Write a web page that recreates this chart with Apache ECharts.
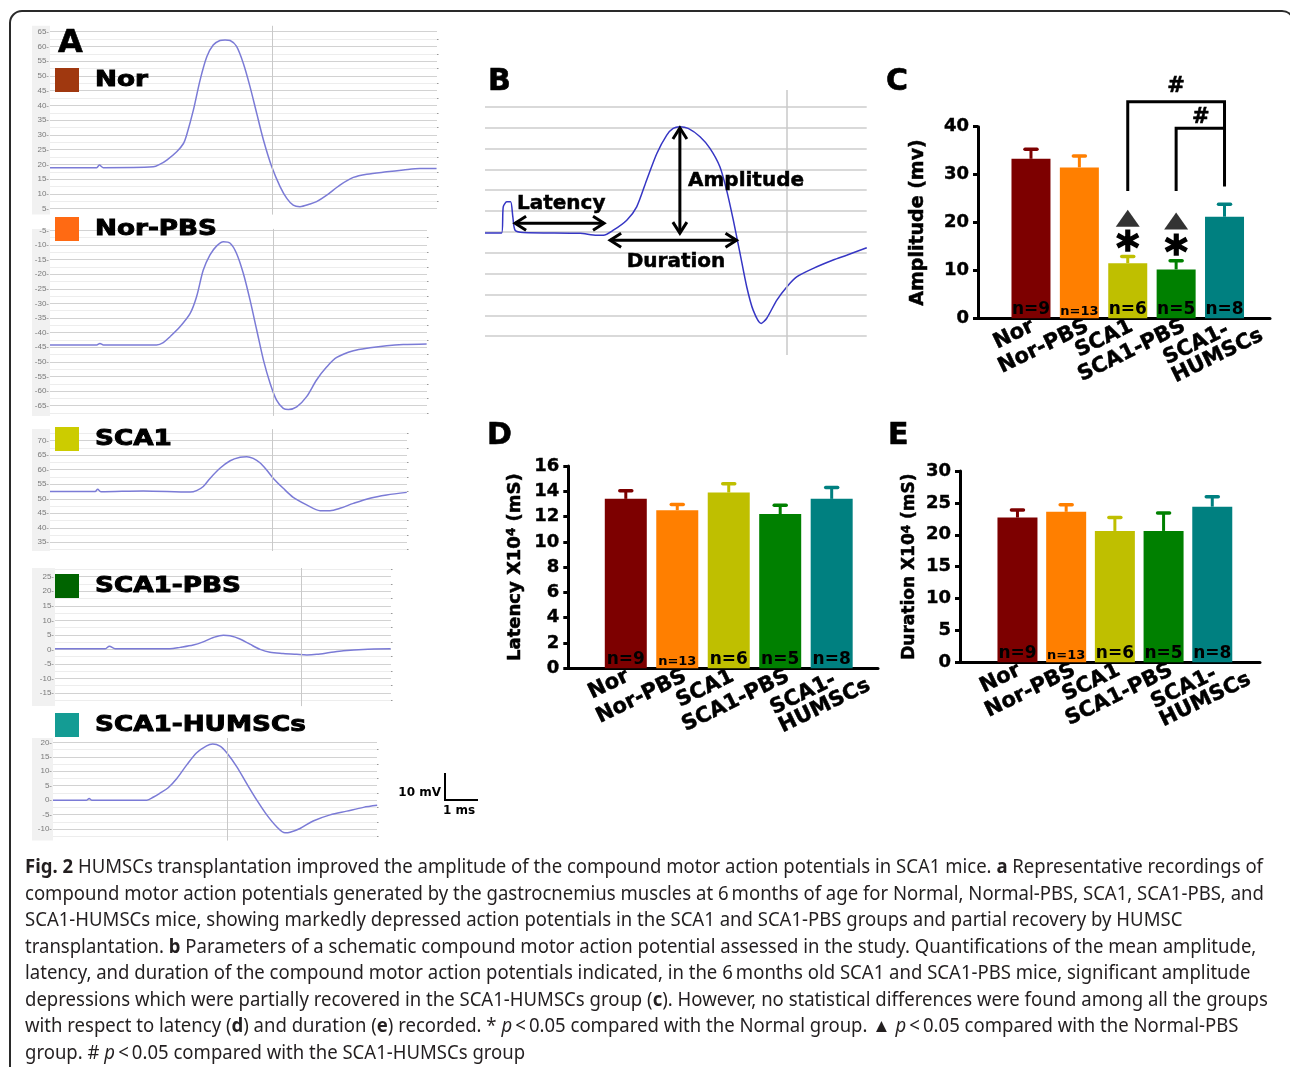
<!DOCTYPE html>
<html>
<head>
<meta charset="utf-8">
<title>Fig. 2</title>
<script src="https://cdn.jsdelivr.net/npm/echarts@6.0.0/dist/echarts.min.js"></script>
<style>
html,body{margin:0;padding:0;background:#ffffff;}
#chart{width:1290px;height:1067px;}
</style>
</head>
<body>
<div id="chart"></div>
<script>
// ===================== DATA =====================
// Panel A: representative CMAP recordings, points are [time (ms), potential (mV)]
const traceNor = [[0,18.9],[1.46,18.9],[1.54,19.8],[1.67,18.9],[3.23,19.2],[3.44,20.1],[3.65,21.5],[3.96,24.3],[4.17,27.1],[4.27,30],[4.48,38.4],[4.69,48.6],[4.9,56.5],[5.1,60.5],[5.31,62],[5.47,62.2],[5.63,62],[5.83,60],[6.04,54.3],[6.25,46.4],[6.46,37.3],[6.67,28.3],[6.93,19.2],[7.19,12.5],[7.4,8.5],[7.6,6.2],[7.81,5.7],[8.13,6.6],[8.33,7.4],[8.65,9.6],[9.06,13],[9.48,15.6],[9.9,16.7],[10.52,17.5],[11.04,18.1],[11.56,18.6],[12.08,18.6]];
const traceNorPBS = [[0,-44.2],[1.46,-44.2],[1.56,-43.7],[1.67,-44.2],[3.33,-44.2],[3.54,-43.4],[3.75,-41.4],[4.06,-38],[4.38,-33.4],[4.58,-27.7],[4.79,-18.6],[5.0,-13.4],[5.21,-10.3],[5.42,-8.9],[5.63,-9.4],[5.83,-12.9],[6.04,-19.7],[6.25,-28.8],[6.46,-39.1],[6.67,-49.4],[6.88,-57.4],[7.08,-63.1],[7.29,-65.9],[7.45,-66.3],[7.71,-65.4],[8.02,-61.9],[8.33,-56.2],[8.65,-51.7],[8.96,-48.5],[9.48,-46.2],[10.0,-45.2],[10.52,-44.5],[11.04,-44.1],[11.77,-43.9]];
const traceSCA1 = [[0,52.5],[1.41,52.5],[1.49,53.3],[1.59,52.4],[2.92,52.7],[4.38,52.3],[4.58,52.8],[4.79,54.2],[5.0,57],[5.31,60.5],[5.63,63.1],[5.94,64.3],[6.15,64.5],[6.35,63.9],[6.56,62.4],[6.77,59.9],[6.98,57],[7.29,53.6],[7.6,50.5],[8.02,47.9],[8.44,45.9],[8.75,45.9],[9.06,46.7],[9.48,48.4],[10.0,50.2],[10.52,51.3],[11.15,52.2]];
const traceSCA1PBS = [[0,0.2],[1.56,0.2],[1.7,1.1],[1.88,0.2],[3.59,0.2],[3.91,0.7],[4.32,1.5],[4.63,2.6],[4.95,4.1],[5.26,4.9],[5.47,4.7],[5.78,3.6],[6.09,1.8],[6.41,0],[6.72,-1],[7.13,-1.4],[7.55,-1.7],[7.87,-1.9],[8.18,-1.7],[8.59,-1.1],[9.01,-0.5],[9.63,0],[10.49,0.2]];
const traceSCA1HUMSCs = [[0,0],[1.05,0],[1.13,0.6],[1.21,0],[2.93,0],[3.13,1],[3.34,2.4],[3.6,4.3],[3.87,7.5],[4.18,12.2],[4.49,16.4],[4.8,18.8],[4.99,19.4],[5.22,18.7],[5.43,16.4],[5.74,11.6],[6.05,5.8],[6.37,0],[6.68,-5.1],[6.99,-9.2],[7.25,-11.3],[7.41,-11.1],[7.72,-9.8],[8.13,-7.2],[8.66,-5.1],[9.18,-3.8],[9.7,-2.5],[10.13,-1.8]];
const traceCursorMs = [6.94, 6.97, 6.93, 7.69, 5.46];
const traceNames = ['Nor', 'Nor-PBS', 'SCA1', 'SCA1-PBS', 'SCA1-HUMSCs'];
const traceYRange = [[3, 67], [-68.5, -4.5], [32, 74], [-19.5, 28], [-14, 21.5]];

// Panel B: schematic CMAP, [time (ms), grid divisions]
const traceSchematic = [[0,4.95],[0.52,4.95],[0.57,6.2],[0.68,6.44],[0.8,6.44],[0.87,5.72],[0.94,5.08],[1.2,4.97],[2.97,4.93],[3.49,4.84],[3.7,4.84],[4.01,5.08],[4.43,5.56],[4.74,6.2],[5.05,7.48],[5.37,8.76],[5.68,9.64],[5.88,9.96],[6.09,10.04],[6.35,9.96],[6.72,9.56],[7.03,9.0],[7.34,8.12],[7.55,7.0],[7.76,5.56],[7.97,3.97],[8.18,2.36],[8.38,1.25],[8.63,0.61],[8.8,0.85],[9.12,1.73],[9.43,2.36],[9.74,2.84],[10.26,3.25],[10.88,3.65],[11.3,3.88],[11.93,4.24]];
const schematicCursorMs = 9.43;
const schematicGridValues = [0,1,2,3,4,5,6,7,8,9,10,11];
// arrows: [x1, y1, x2, y2] (latency, amplitude, duration)
const schematicArrows = [[0.94,5.41,3.72,5.41],[6.09,9.98,6.09,4.94],[3.91,4.6,7.86,4.6]];
const schematicLabels = ['Latency', 'Amplitude', 'Duration'];

// Panels C-E: group means, SEM and n
const groups = ['Nor', 'Nor-PBS', 'SCA1', 'SCA1-PBS', 'SCA1-HUMSCs'];
const groupAxisLabels = ['Nor', 'Nor-PBS', 'SCA1', 'SCA1-PBS', '{p|SCA1-}\n{p|HUMSCs}'];
const groupN = [9, 13, 6, 5, 8];
const amplitudeMean = [33.3, 31.5, 11.5, 10.2, 21.2];
const amplitudeSem = [2.0, 2.4, 1.4, 1.8, 2.6];
const latencyMean = [13.4, 12.5, 13.9, 12.2, 13.4];
const latencySem = [0.65, 0.46, 0.7, 0.7, 0.9];
const durationMean = [22.7, 23.6, 20.6, 20.6, 24.4];
const durationSem = [1.2, 1.1, 2.1, 2.8, 1.55];
const amplitudeTicks = [0, 10, 20, 30, 40];
const latencyTicks = [0, 2, 4, 6, 8, 10, 12, 14, 16];
const durationTicks = [0, 5, 10, 15, 20, 25, 30];
// significance marks in panel C, [group index, amplitude]
const triangleMarks = [[2, 20.9], [3, 20.3]];
const starMarks = [[2, 16.1], [3, 15.1]];
const hashMarks = [[3, 48.4], [3.51, 41.9]];
const sigBrackets = [
  [[2, 26.6], [2, 45.2], [4, 45.2], [4, 27.5]],
  [[3, 26.6], [3, 39.7], [4, 39.7]]
];

// Caption
const captionLines = [
  [['b','Fig. 2'],['n',' HUMSCs transplantation improved the amplitude of the compound motor action potentials in SCA1 mice. '],['b','a'],['n',' Representative recordings of']],
  [['n','compound motor action potentials generated by the gastrocnemius muscles at 6\u2009months of age for Normal, Normal-PBS, SCA1, SCA1-PBS, and']],
  [['n','SCA1-HUMSCs mice, showing markedly depressed action potentials in the SCA1 and SCA1-PBS groups and partial recovery by HUMSC']],
  [['n','transplantation. '],['b','b'],['n',' Parameters of a schematic compound motor action potential assessed in the study. Quantifications of the mean amplitude,']],
  [['n','latency, and duration of the compound motor action potentials indicated, in the 6\u2009months old SCA1 and SCA1-PBS mice, significant amplitude']],
  [['n','depressions which were partially recovered in the SCA1-HUMSCs group ('],['b','c'],['n','). However, no statistical differences were found among all the groups']],
  [['n','with respect to latency ('],['b','d'],['n',') and duration ('],['b','e'],['n',') recorded. * '],['i','p'],['n','\u2009<\u20090.05 compared with the Normal group. \u25B2 '],['i','p'],['n','\u2009<\u20090.05 compared with the Normal-PBS']],
  [['n','group. # '],['i','p'],['n','\u2009<\u20090.05 compared with the SCA1-HUMSCs group']]
];

// ===================== STYLE / LAYOUT =====================
const BOLD = 'DejaVu Sans';
const barColors = ['#7d0000', '#ff7f00', '#bfbf00', '#008000', '#008080'];
const keyColors = ['#a0380f', '#ff6a13', '#cccc00', '#006400', '#149c94'];
const PX_PER_MS = 32;
const traceBoxes = [
  {left: 50, right: 437, top: 25.8, bottom: 214.6},
  {left: 50, right: 427, top: 228.9, bottom: 415.9},
  {left: 50, right: 407, top: 429.1, bottom: 551.0},
  {left: 55, right: 391, top: 568.0, bottom: 706.1},
  {left: 53, right: 377, top: 738.0, bottom: 840.6}
];
const traceData = [traceNor, traceNorPBS, traceSCA1, traceSCA1PBS, traceSCA1HUMSCs];
const keyTops = [68, 217, 427, 574, 713];
// horizontal nudges (px) of the slanted category labels relative to the bar centres
const labelNudgePx = [2, 8, 4, 8, 33];

const grid = [], xAxis = [], yAxis = [], series = [], graphic = [];

// ---- Panel A ----
traceData.forEach((data, k) => {
  const b = traceBoxes[k];
  const [ymin, ymax] = traceYRange[k];
  const gi = grid.length;
  grid.push({left: b.left, top: b.top, width: b.right - b.left, height: b.bottom - b.top, outerBoundsMode: 'none'});
  const xi = xAxis.length;
  xAxis.push({gridIndex: gi, type: 'value', min: 0, max: (b.right - b.left) / PX_PER_MS, show: false});
  const majors = [], minors = [];
  for (let v = Math.ceil(ymin / 5) * 5; v <= ymax; v += 5) majors.push(v);
  for (let v = Math.floor(ymin / 5) * 5 + 2.5; v <= ymax; v += 5) if (v >= ymin) minors.push(v);
  const yi = yAxis.length;
  yAxis.push({
    gridIndex: gi, type: 'value', min: ymin, max: ymax,
    axisLine: {show: false, onZero: false},
    axisTick: {show: false, customValues: majors},
    axisLabel: {customValues: majors, formatter: v => v + '-', fontSize: 8, color: '#7a7a7a', fontFamily: 'Liberation Sans', margin: 1, showMinLabel: true, showMaxLabel: true},
    splitLine: {show: true, lineStyle: {color: '#d2d2d2', width: 1}}
  });
  yAxis.push({
    gridIndex: gi, type: 'value', min: ymin, max: ymax,
    axisLine: {show: false, onZero: false},
    axisTick: {show: true, customValues: minors, length: 1.5, lineStyle: {color: '#999'}},
    axisLabel: {show: false},
    splitLine: {show: true, lineStyle: {color: '#ededed', width: 1}}
  });
  series.push({
    type: 'line', name: traceNames[k], xAxisIndex: xi, yAxisIndex: yi, data: data,
    symbol: 'none', smooth: 0.3, lineStyle: {color: '#7b7bd6', width: 1.5}, z: 3,
    markLine: {silent: true, symbol: 'none', label: {show: false}, lineStyle: {color: '#c9c9c9', width: 1, type: 'solid'}, data: [{xAxis: traceCursorMs[k]}]}
  });
  graphic.push({type: 'rect', z: -1, shape: {x: 32, y: b.top, width: b.left - 32, height: b.bottom - b.top}, style: {fill: '#f1f1f1'}});
  graphic.push({type: 'rect', z: 10, shape: {x: 55, y: keyTops[k], width: 24, height: 24}, style: {fill: keyColors[k]}});
  graphic.push({type: 'text', z: 10, x: 95, y: keyTops[k] + 12.5, scaleX: 1.25,
    style: {text: traceNames[k], fontFamily: BOLD, fontWeight: 'bold', fontSize: 21, fill: '#000', stroke: '#000', lineWidth: 0.9, align: 'left', verticalAlign: 'middle'}});
});

// scale bar
graphic.push({type: 'polyline', shape: {points: [[445, 773], [445, 800], [478, 800]]}, style: {stroke: '#000', lineWidth: 2, fill: null}});
graphic.push({type: 'text', x: 441, y: 793, style: {text: '10 mV', fontFamily: BOLD, fontWeight: 'bold', fontSize: 12, fill: '#000', align: 'right', verticalAlign: 'middle'}});
graphic.push({type: 'text', x: 459, y: 811, style: {text: '1 ms', fontFamily: BOLD, fontWeight: 'bold', fontSize: 12, fill: '#000', align: 'center', verticalAlign: 'middle'}});

// ---- Panel B ----
(function () {
  const gi = grid.length;
  const box = {left: 485, right: 866.7, top: 90, bottom: 355};
  grid.push({left: box.left, top: box.top, width: box.right - box.left, height: box.bottom - box.top, outerBoundsMode: 'none'});
  const xi = xAxis.length;
  xAxis.push({gridIndex: gi, type: 'value', min: 0, max: (box.right - box.left) / PX_PER_MS, show: false});
  const yi = yAxis.length;
  yAxis.push({gridIndex: gi, type: 'value', min: -0.9, max: 11.8,
    axisLine: {show: false, onZero: false}, axisTick: {show: false, customValues: schematicGridValues},
    axisLabel: {show: false}, splitLine: {show: true, lineStyle: {color: '#cccccc', width: 1.5}}});
  series.push({type: 'line', name: 'schematic', xAxisIndex: xi, yAxisIndex: yi, data: traceSchematic,
    symbol: 'none', smooth: 0.25, lineStyle: {color: '#3636c4', width: 1.5}, z: 3,
    markLine: {silent: true, symbol: 'none', label: {show: false}, lineStyle: {color: '#c9c9c9', width: 1.5, type: 'solid'}, data: [{xAxis: schematicCursorMs}]}});
  series.push({type: 'custom', name: 'arrows', xAxisIndex: xi, yAxisIndex: yi, data: schematicArrows, encode: {x: [0, 2], y: [1, 3]}, clip: false, z: 5,
    renderItem: function (params, api) {
      const a = api.coord([api.value(0), api.value(1)]);
      const b = api.coord([api.value(2), api.value(3)]);
      const dx = b[0] - a[0], dy = b[1] - a[1], len = Math.hypot(dx, dy);
      const ux = dx / len, uy = dy / len, nx = -uy, ny = ux, L = 11, Wd = 7;
      const head = (p, s) => ({type: 'polyline', shape: {points: [[p[0] + s * ux * L + nx * Wd, p[1] + s * uy * L + ny * Wd], [p[0], p[1]], [p[0] + s * ux * L - nx * Wd, p[1] + s * uy * L - ny * Wd]]}, style: {stroke: '#000', lineWidth: 3, fill: null}});
      return {type: 'group', children: [
        {type: 'line', shape: {x1: a[0], y1: a[1], x2: b[0], y2: b[1]}, style: {stroke: '#000', lineWidth: 3}},
        head(a, 1), head(b, -1)
      ]};
    }});
  const labelPos = [[517, 204, 'left'], [688, 181, 'left'], [676, 262, 'center']];
  schematicLabels.forEach((t, i) => {
    graphic.push({type: 'text', z: 10, x: labelPos[i][0], y: labelPos[i][1],
      style: {text: t, fontFamily: BOLD, fontWeight: 'bold', fontSize: 20, fill: '#000', stroke: '#000', lineWidth: 0.5, align: labelPos[i][2], verticalAlign: 'middle'}});
  });
})();

// ---- Panels C, D, E ----
function addBarPanel(p) {
  const gi = grid.length;
  const pxPerUnit = (p.right - p.left) / (p.xmax - p.xmin);
  const labelAt = labelNudgePx.map((d, i) => i + d / pxPerUnit);
  // empty guard labels at both ends so that ECharts' min/max label pruning never hides a group label
  const labelValues = [p.xmin].concat(labelAt, [p.xmax]);
  grid.push({left: p.left, top: p.top, width: p.right - p.left, height: p.bottom - p.top, outerBoundsMode: 'none'});
  const xi = xAxis.length;
  xAxis.push({gridIndex: gi, type: 'value', min: p.xmin, max: p.xmax,
    axisLine: {show: true, onZero: false, lineStyle: {color: '#000', width: 3}},
    axisTick: {show: false}, splitLine: {show: false},
    axisLabel: {customValues: labelValues,
      formatter: v => (v < -0.5 || v > 4.85) ? '' : groupAxisLabels[Math.floor(v + 0.3)],
      rotate: 26, margin: 7, showMinLabel: false, showMaxLabel: false, hideOverlap: false,
      fontFamily: BOLD, fontWeight: 'bold', fontSize: 21, lineHeight: 20, color: '#000', textBorderColor: '#000', textBorderWidth: 0.5,
      rich: {p: {fontFamily: BOLD, fontWeight: 'bold', fontSize: 21, lineHeight: 20, color: '#000', textBorderColor: '#000', textBorderWidth: 0.5, align: 'left'}}}});
  const yi = yAxis.length;
  yAxis.push({gridIndex: gi, type: 'value', min: 0, max: p.ticks[p.ticks.length - 1], interval: p.ticks[1] - p.ticks[0],
    axisLine: {show: true, onZero: false, lineStyle: {color: '#000', width: 3}},
    axisTick: {show: true, length: 5, lineStyle: {color: '#000', width: 3}},
    splitLine: {show: false},
    axisLabel: {fontFamily: BOLD, fontWeight: 'bold', fontSize: 18, color: '#000', textBorderColor: '#000', textBorderWidth: 0.4, margin: 9, showMinLabel: true, showMaxLabel: true},
    name: p.name, nameLocation: 'middle', nameRotate: 90, nameGap: p.nameGap,
    nameTextStyle: {fontFamily: BOLD, fontWeight: 'bold', fontSize: p.nameSize, color: '#000', textBorderColor: '#000', textBorderWidth: 0.5,
      rich: {sup: {fontFamily: BOLD, fontWeight: 'bold', fontSize: 12, color: '#000', verticalAlign: 'top', lineHeight: 14}}}});
  series.push({type: 'custom', name: p.id + ' SEM', xAxisIndex: xi, yAxisIndex: yi, z: 1,
    data: p.mean.map((m, i) => [i, m, m + p.sem[i]]),
    renderItem: function (params, api) {
      const base = api.coord([api.value(0), api.value(1)]);
      const top = api.coord([api.value(0), api.value(2)]);
      const c = barColors[params.dataIndex];
      return {type: 'group', children: [
        {type: 'line', shape: {x1: base[0], y1: base[1], x2: top[0], y2: top[1]}, style: {stroke: c, lineWidth: 3}},
        {type: 'line', shape: {x1: top[0] - 6, y1: top[1], x2: top[0] + 6, y2: top[1]}, style: {stroke: c, lineWidth: 3.5, lineCap: 'round'}}
      ]};
    }});
  series.push({type: 'bar', name: p.id, xAxisIndex: xi, yAxisIndex: yi, barWidth: p.barWidth, z: 2,
    data: p.mean.map((m, i) => ({value: [i, m], itemStyle: {color: barColors[i]}, label: {fontSize: groupN[i] >= 10 ? 13 : 17}})),
    label: {show: true, position: 'insideBottom', distance: 0, formatter: q => 'n=' + groupN[q.dataIndex],
      fontFamily: BOLD, fontWeight: 'bold', color: '#000'}});
  return {xi, yi};
}

const cAx = addBarPanel({id: 'Amplitude', left: 978, right: 1270, top: 126.7, bottom: 318.3, xmin: -1.095, xmax: 4.94,
  ticks: amplitudeTicks, barWidth: 39, mean: amplitudeMean, sem: amplitudeSem, name: 'Amplitude (mv)', nameGap: 50, nameSize: 19});
addBarPanel({id: 'Latency', left: 568.3, right: 878, top: 466, bottom: 668.3, xmin: -1.117, xmax: 4.9,
  ticks: latencyTicks, barWidth: 42, mean: latencyMean, sem: latencySem, name: 'Latency X10{sup|4} (mS)', nameGap: 44, nameSize: 18});
addBarPanel({id: 'Duration', left: 960, right: 1260, top: 471, bottom: 662.3, xmin: -1.18, xmax: 4.98,
  ticks: durationTicks, barWidth: 40, mean: durationMean, sem: durationSem, name: 'Duration X10{sup|4} (mS)', nameGap: 42, nameSize: 17});

// significance marks (panel C)
series.push({type: 'scatter', name: 'vs Nor-PBS', xAxisIndex: cAx.xi, yAxisIndex: cAx.yi, data: triangleMarks,
  symbol: 'triangle', symbolSize: [24, 17], itemStyle: {color: '#000'}, z: 6});
function textMarkRender(ch, size, dy) {
  return function (params, api) {
    const p = api.coord([api.value(0), api.value(1)]);
    return {type: 'text', x: p[0], y: p[1] + dy, style: {text: ch, fontFamily: BOLD, fontWeight: 'bold', fontSize: size, fill: '#000',
      stroke: '#000', lineWidth: ch === '*' ? 1.5 : 0.6, align: 'center', verticalAlign: 'middle'}};
  };
}
series.push({type: 'custom', name: 'vs Nor', xAxisIndex: cAx.xi, yAxisIndex: cAx.yi, data: starMarks, clip: false, z: 6,
  renderItem: textMarkRender('*', 44, 10)});
series.push({type: 'custom', name: 'vs SCA1-HUMSCs', xAxisIndex: cAx.xi, yAxisIndex: cAx.yi, data: hashMarks, clip: false, z: 6,
  renderItem: textMarkRender('#', 21, 0)});
series.push({type: 'custom', name: 'brackets', xAxisIndex: cAx.xi, yAxisIndex: cAx.yi, clip: false, z: 6,
  data: sigBrackets.map(b => b[0]),
  renderItem: function (params, api) {
    const pts = sigBrackets[params.dataIndex].map(pt => api.coord(pt));
    return {type: 'polyline', shape: {points: pts}, style: {stroke: '#000', lineWidth: 3, fill: null}};
  }});

// panel letters
[['A', 58, 44, 32], ['B', 488, 82.5, 30], ['C', 886, 82, 30], ['D', 487, 436.5, 30], ['E', 888, 436.5, 30]].forEach(l => {
  graphic.push({type: 'text', z: 10, x: l[1], y: l[2], style: {text: l[0], fontFamily: BOLD, fontWeight: 'bold', fontSize: l[3], fill: '#000', stroke: '#000', lineWidth: 0.6, align: 'left', verticalAlign: 'middle'}});
});

// outer frame
graphic.push({type: 'rect', z: -2, shape: {x: 10, y: 11, width: 1284, height: 1120, r: 12}, style: {fill: null, stroke: '#2a2a2a', lineWidth: 2}});

// caption
const CAP_FONT = 'Noto Sans', CAP_SIZE = 19;
const mctx = document.createElement('canvas').getContext('2d');
function segFont(st) { return (st === 'i' ? 'italic ' : '') + (st === 'b' ? 'bold ' : '') + CAP_SIZE + 'px "' + CAP_FONT + '"'; }
function measureLine(line) { let w = 0; line.forEach(([st, t]) => { mctx.font = segFont(st); w += mctx.measureText(t).width; }); return w; }
const capScale = 1238 / measureLine(captionLines[0]);
const capRich = {
  b: {fontFamily: CAP_FONT, fontSize: CAP_SIZE, fontWeight: 'bold', fill: '#231f20'},
  i: {fontFamily: CAP_FONT, fontSize: CAP_SIZE, fontStyle: 'italic', fill: '#231f20'}
};
captionLines.forEach((line, i) => {
  const txt = line.map(([st, t]) => st === 'n' ? t : '{' + st + '|' + t + '}').join('');
  graphic.push({type: 'text', x: 25, y: 868 + 26.5 * i, scaleX: capScale,
    style: {text: txt, rich: capRich, fontFamily: CAP_FONT, fontSize: CAP_SIZE, fill: '#231f20', align: 'left', verticalAlign: 'middle'}});
});

const chart = echarts.init(document.getElementById('chart'), null, {renderer: 'canvas', width: 1290, height: 1067});
chart.setOption({
  animation: false,
  backgroundColor: '#ffffff',
  grid: grid, xAxis: xAxis, yAxis: yAxis, series: series, graphic: graphic
});
</script>
</body>
</html>
